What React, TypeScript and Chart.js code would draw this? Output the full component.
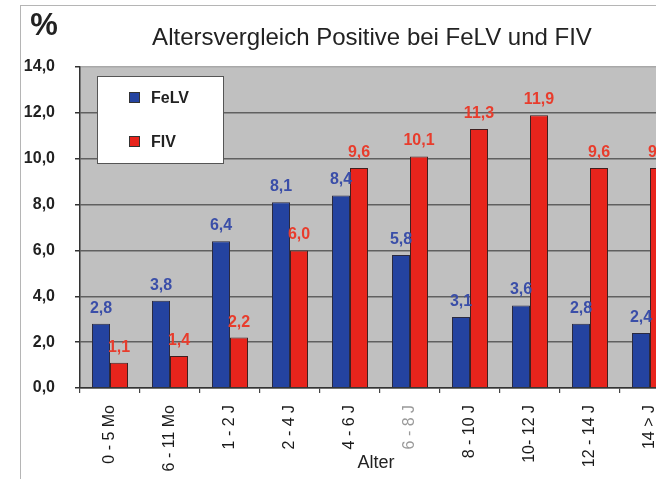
import React, { useEffect, useRef } from 'react';
import { Chart, registerables } from 'chart.js';

Chart.register(...registerables);

const categories = ['0 - 5 Mo', '6 - 11 Mo', '1 - 2 J', '2 - 4 J', '4 - 6 J', '6 - 8 J', '8 - 10 J', '10- 12 J', '12 - 14 J', '14 > J'];
const felvValues = [2.8, 3.8, 6.4, 8.1, 8.4, 5.8, 3.1, 3.6, 2.8, 2.4];
const fivValues = [1.1, 1.4, 2.2, 6.0, 9.6, 10.1, 11.3, 11.9, 9.6, 9.6];
const seriesNames = ['FeLV', 'FIV'];
const yMin = 0;
const yMax = 14;
const yStep = 2;
const chartTitle = 'Altersvergleich Positive bei FeLV und FIV';
const yUnit = '%';
const xTitle = 'Alter';

const FONT = '"Liberation Sans", Arial, Helvetica, sans-serif';
const BLUE = '#2443a0';
const RED = '#e8241c';
const BLUE_LABEL = '#3a4ea8';
const RED_LABEL = '#e83c2c';

const fmt = (v: number) => v.toFixed(1).replace('.', ',');

const decor = {
  id: 'decor',
  beforeDraw(chart: any) {
    const { ctx, chartArea: a } = chart;
    ctx.save();
    ctx.fillStyle = '#c0c0c0';
    ctx.fillRect(a.left, a.top, a.right - a.left, a.bottom - a.top);
    ctx.restore();
  },
  afterDatasetsDraw(chart: any) {
    const { ctx } = chart;
    ctx.save();
    ctx.font = `bold 16px ${FONT}`;
    ctx.textAlign = 'center';
    ctx.textBaseline = 'alphabetic';
    chart.data.datasets.forEach((ds: any, di: number) => {
      const meta = chart.getDatasetMeta(di);
      ctx.fillStyle = di === 0 ? BLUE_LABEL : RED_LABEL;
      meta.data.forEach((bar: any, i: number) => {
        ctx.fillText(fmt(ds.data[i]), bar.x, bar.y - 11);
      });
    });
    ctx.restore();
  },
  afterDraw(chart: any) {
    const { ctx } = chart;
    ctx.save();
    ctx.fillStyle = '#222';
    ctx.font = `24px ${FONT}`;
    ctx.textAlign = 'center';
    ctx.textBaseline = 'middle';
    ctx.fillText(chartTitle, 372, 38);
    ctx.font = `bold 31px ${FONT}`;
    ctx.fillText(yUnit, 44, 26);
    ctx.font = `18px ${FONT}`;
    ctx.fillText(xTitle, 376, 463);
    const lx = 97, ly = 76, lw = 126, lh = 87;
    ctx.fillStyle = '#ffffff';
    ctx.fillRect(lx, ly, lw, lh);
    ctx.strokeStyle = '#555';
    ctx.lineWidth = 1;
    ctx.strokeRect(lx + 0.5, ly + 0.5, lw, lh);
    const rows = [98, 142];
    chart.data.datasets.forEach((ds: any, di: number) => {
      const cy = rows[di];
      ctx.fillStyle = ds.backgroundColor;
      ctx.fillRect(129, cy - 6, 11, 11);
      ctx.strokeStyle = '#333';
      ctx.strokeRect(129.5, cy - 5.5, 10, 10);
      ctx.fillStyle = '#222';
      ctx.font = `bold 16px ${FONT}`;
      ctx.textAlign = 'left';
      ctx.textBaseline = 'middle';
      ctx.fillText(ds.label, 151, cy + 1);
    });
    ctx.restore();
  },
};

export default function App() {
  const ref = useRef<HTMLCanvasElement | null>(null);
  useEffect(() => {
    if (!ref.current) return;
    const chart = new Chart(ref.current, {
      type: 'bar',
      data: {
        labels: categories,
        datasets: [
          { label: seriesNames[0], data: felvValues, backgroundColor: BLUE, borderColor: '#2a2a40', borderWidth: 1 },
          { label: seriesNames[1], data: fivValues, backgroundColor: RED, borderColor: '#402020', borderWidth: 1 },
        ],
      },
      options: {
        responsive: false,
        animation: false,
        devicePixelRatio: 1,
        layout: { padding: { left: 0, top: 67, right: 20, bottom: 0 } },
        datasets: { bar: { barPercentage: 1.0, categoryPercentage: 0.6 } },
        plugins: { legend: { display: false }, title: { display: false }, tooltip: { enabled: false } },
        scales: {
          x: {
            afterFit: (s: any) => { s.height = 91; },
            grid: { display: true, drawOnChartArea: false, drawTicks: true, tickLength: 5, color: '#444', tickColor: '#444', lineWidth: 1.2 },
            border: { color: '#333', width: 1.5 },
            ticks: {
              autoSkip: false,
              minRotation: 90,
              maxRotation: 90,
              padding: 12,
              font: { family: FONT, size: 16 },
              color: (c: any) => (c.index === 5 ? '#9a9a9a' : '#1a1a1a'),
            },
          },
          y: {
            min: yMin,
            max: yMax,
            afterFit: (s: any) => { s.width = 80; },
            grid: {
              color: (c: any) => (c.tick && c.tick.value === yMax ? '#a8a8a8' : '#606060'),
              lineWidth: 1.5,
              tickLength: 5,
              tickColor: '#333',
            },
            border: { color: '#333', width: 1.5 },
            ticks: {
              stepSize: yStep,
              padding: 20,
              font: { family: FONT, size: 16, weight: 'bold' },
              color: '#222',
              callback: (v: any) => fmt(Number(v)),
            },
          },
        },
      },
      plugins: [decor],
    });
    return () => chart.destroy();
  }, []);

  return (
    <div style={{ position: 'fixed', left: 0, top: 0, width: 656, height: 479, overflow: 'hidden', background: '#fff' }}>
      <div style={{ position: 'absolute', left: 20, top: 5, width: 900, height: 700, borderLeft: '1px solid #b5b5b5', borderTop: '1px solid #b5b5b5' }} />
      <canvas ref={ref} width={700} height={479} style={{ position: 'absolute', left: 0, top: 0, width: 700, height: 479, display: 'block' }} />
    </div>
  );
}
